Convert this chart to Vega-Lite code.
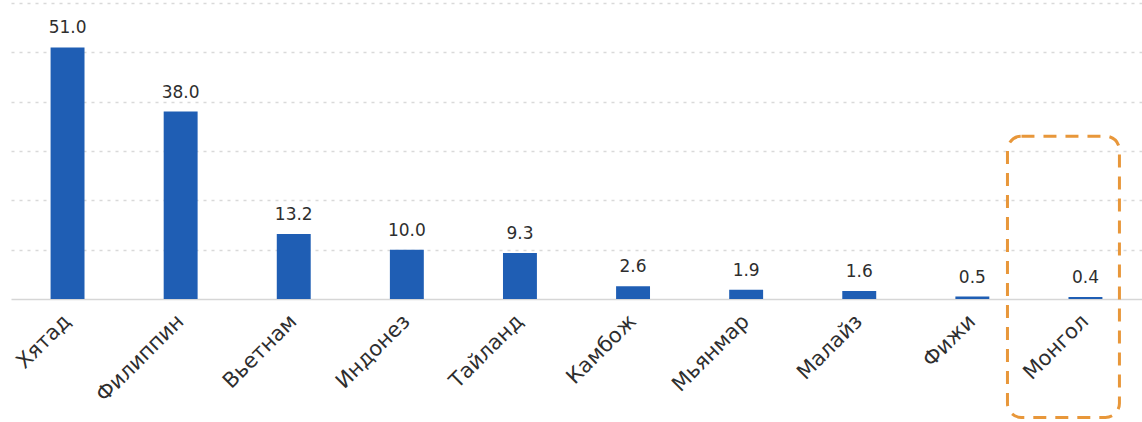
{
  "$schema": "https://vega.github.io/schema/vega-lite/v6.json",
  "autosize": "none",
  "width": 1131,
  "height": 296,
  "padding": {"left": 11, "top": 3, "right": 0, "bottom": 123},
  "background": "white",
  "config": {"view": {"stroke": null}, "font": "DejaVu Sans"},
  "datasets": {
    "main": [
      {"country": "Хятад", "value": 51.0},
      {"country": "Филиппин", "value": 38.0},
      {"country": "Вьетнам", "value": 13.2},
      {"country": "Индонез", "value": 10.0},
      {"country": "Тайланд", "value": 9.3},
      {"country": "Камбож", "value": 2.6},
      {"country": "Мьянмар", "value": 1.9},
      {"country": "Малайз", "value": 1.6},
      {"country": "Фижи", "value": 0.5},
      {"country": "Монгол", "value": 0.4}
    ],
    "box": [
      {"country": "Монгол", "lo": -24, "hi": 33}
    ]
  },
  "encoding": {
    "x": {
      "field": "country", "type": "nominal", "sort": null,
      "scale": {"paddingInner": 0.7, "paddingOuter": 0.35},
      "axis": {
        "title": null, "labelAngle": -45, "labelFontSize": 21, "labelColor": "#2e2e2e",
        "labelFont": "DejaVu Sans", "labelAlign": "right", "labelBaseline": "middle",
        "ticks": false, "labelPadding": 19, "domain": true, "domainColor": "#d6d6d6",
        "domainWidth": 1.5, "grid": false, "labelOverlap": false
      }
    }
  },
  "layer": [
    {
      "data": {"name": "main"},
      "mark": {"type": "bar", "color": "#1F5EB4"},
      "encoding": {
        "y": {
          "field": "value", "type": "quantitative",
          "scale": {"domain": [0, 60], "nice": false},
          "axis": {
            "title": null, "labels": false, "ticks": false, "domain": false,
            "values": [10, 20, 30, 40, 50, 60],
            "grid": true, "gridColor": "#d9d9d9", "gridDash": [3, 5], "gridWidth": 1.5
          }
        }
      }
    },
    {
      "data": {"name": "main"},
      "mark": {"type": "text", "baseline": "bottom", "dy": -10, "fontSize": 17, "color": "#2e2e2e", "font": "DejaVu Sans"},
      "encoding": {
        "y": {"field": "value", "type": "quantitative"},
        "text": {"field": "value", "type": "quantitative", "format": ".1f"}
      }
    },
    {
      "data": {"name": "box"},
      "mark": {
        "type": "bar", "width": {"band": 3.3}, "xOffset": -22, "fill": null, "fillOpacity": 0,
        "stroke": "#E8973A", "strokeWidth": 3, "strokeDash": [13, 9], "cornerRadius": 14
      },
      "encoding": {
        "y": {"field": "lo", "type": "quantitative"},
        "y2": {"field": "hi"}
      }
    }
  ]
}
